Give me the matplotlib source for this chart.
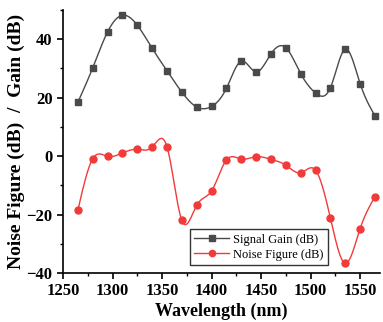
import matplotlib
matplotlib.use('Agg')
import matplotlib.pyplot as plt
import numpy as np
from matplotlib.ticker import MultipleLocator

plt.rcParams['font.family'] = ['Liberation Serif', 'DejaVu Serif']

# 数据
wavelength = [1265, 1280, 1295, 1310, 1325, 1340, 1355, 1370, 1385, 1400, 1415,
              1430, 1445, 1460, 1475, 1490, 1505, 1520, 1535, 1550, 1565]
signal_gain = [18.4, 30.2, 42.5, 48.2, 44.8, 36.9, 29.2, 21.9, 16.8, 17.0, 23.2,
               32.5, 28.8, 35.0, 37.1, 28.2, 21.6, 23.4, 36.6, 24.8, 13.8]
noise_figure = [-18.5, -0.9, -0.1, 1.1, 2.3, 3.1, 3.2, -22.0, -16.8, -11.9, -1.3,
                -1.0, -0.2, -1.1, -3.1, -5.7, -4.8, -21.2, -36.7, -24.8, -13.9]


def natural_spline(x, y, n=400):
    # 自然三次样条
    x = np.asarray(x, float)
    y = np.asarray(y, float)
    k = len(x)
    h = np.diff(x)
    A = np.zeros((k, k))
    b = np.zeros(k)
    A[0, 0] = A[-1, -1] = 1
    for i in range(1, k - 1):
        A[i, i - 1] = h[i - 1]
        A[i, i] = 2 * (h[i - 1] + h[i])
        A[i, i + 1] = h[i]
        b[i] = 6 * ((y[i + 1] - y[i]) / h[i] - (y[i] - y[i - 1]) / h[i - 1])
    M = np.linalg.solve(A, b)
    xs = np.linspace(x[0], x[-1], n)
    idx = np.clip(np.searchsorted(x, xs) - 1, 0, k - 2)
    x0, x1 = x[idx], x[idx + 1]
    hh = x1 - x0
    t0, t1 = x1 - xs, xs - x0
    ys = (M[idx] * t0 ** 3 + M[idx + 1] * t1 ** 3) / (6 * hh) \
        + (y[idx] / hh - M[idx] * hh / 6) * t0 + (y[idx + 1] / hh - M[idx + 1] * hh / 6) * t1
    return xs, ys


fig = plt.figure(figsize=(3.83, 3.22), dpi=100)
ax = fig.add_axes([0.1645, 0.152, 0.8275, 0.817])

gray = '#4a4a4a'
red = '#f23a3a'

xs, ys = natural_spline(wavelength, signal_gain)
ax.plot(xs, ys, color=gray, lw=1.0)
ax.plot(wavelength, signal_gain, 's', color=gray, ms=4.5, ls='none')
xs, ys = natural_spline(wavelength, noise_figure)
ax.plot(xs, ys, color=red, lw=1.0)
ax.plot(wavelength, noise_figure, 'o', color=red, ms=5, ls='none')

# 图例句柄
ax.plot([], [], '-s', color=gray, ms=4, lw=1.0, label='Signal Gain (dB)')
ax.plot([], [], '-o', color=red, ms=4.5, lw=1.0, label='Noise Figure (dB)')
leg = ax.legend(loc='lower left', bbox_to_anchor=(0.40, 0.03), fontsize=9,
                frameon=True, fancybox=False, edgecolor='black',
                borderpad=0.35, labelspacing=0.25, handlelength=2.8, handletextpad=0.3,
                borderaxespad=0)
leg.get_frame().set_linewidth(1.0)

ax.set_xlim(1250, 1570)
ax.set_ylim(-40, 50)
ax.xaxis.set_major_locator(MultipleLocator(50))
ax.xaxis.set_minor_locator(MultipleLocator(25))
ax.yaxis.set_major_locator(MultipleLocator(20))
ax.yaxis.set_minor_locator(MultipleLocator(10))
ax.spines['top'].set_visible(False)
ax.spines['right'].set_visible(False)
ax.spines['left'].set_linewidth(1.2)
ax.spines['bottom'].set_linewidth(1.2)
ax.tick_params(which='major', direction='out', length=4, width=1.2, labelsize=12)
ax.tick_params(which='minor', direction='out', length=2.5, width=1.0)
for lab in ax.get_xticklabels() + ax.get_yticklabels():
    lab.set_fontweight('bold')

ax.set_xlabel('Wavelength (nm)', fontsize=13, fontweight='bold', labelpad=2)
ax.set_ylabel('Noise Figure (dB)  /  Gain (dB)', fontsize=14, fontweight='bold', labelpad=1)

fig.savefig('out.png', dpi=100)
